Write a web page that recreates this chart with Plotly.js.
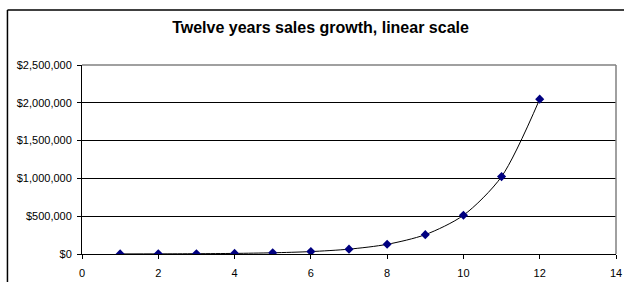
<!DOCTYPE html>
<html>
<head>
<meta charset="utf-8">
<script src="https://cdn.plot.ly/plotly-3.0.1.min.js"></script>
<style>html,body{margin:0;padding:0;background:#fff;}#chart{width:624px;height:282px;}</style>
</head>
<body>
<div id="chart"></div>
<script>
const years = [1, 2, 3, 4, 5, 6, 7, 8, 9, 10, 11, 12];
const sales = [1000, 2000, 4000, 8000, 16000, 32000, 64000, 128000, 256000, 512000, 1024000, 2048000];
const xTicks = [0, 2, 4, 6, 8, 10, 12, 14];
const yTicks = [0, 500000, 1000000, 1500000, 2000000, 2500000];
const yTickLabels = ['$0', '$500,000', '$1,000,000', '$1,500,000', '$2,000,000', '$2,500,000'];

const trace = {
  x: years, y: sales, type: 'scatter', mode: 'lines+markers',
  line: {color: '#000000', width: 1, shape: 'spline', smoothing: 0.8},
  marker: {symbol: 'diamond', size: 7, color: '#000080', line: {width: 0}},
  hoverinfo: 'none'
};

const font = {family: 'Liberation Sans, Arial, sans-serif', size: 11, color: '#000'};
const layout = {
  width: 624, height: 282,
  margin: {l: 82, r: 8, t: 65, b: 28, pad: 0},
  paper_bgcolor: '#fff', plot_bgcolor: '#fff',
  showlegend: false,
  font: font,
  title: {text: '<b>Twelve years sales growth, linear scale</b>', font: {family: 'Liberation Sans, Arial, sans-serif', size: 16, color: '#000'},
    xref: 'container', x: 320.5/624, xanchor: 'center', yref: 'container', y: 1 - 27/282, yanchor: 'middle'},
  xaxis: {range: [0, 14], tickvals: xTicks, ticktext: xTicks.map(String), showgrid: false, zeroline: false,
    showline: true, linecolor: '#000', linewidth: 1, ticks: 'outside', ticklen: 4, tickcolor: '#000', tickfont: font,
    ticklabelstandoff: 5, fixedrange: true},
  yaxis: {range: [0, 2500000], tickvals: yTicks, ticktext: yTickLabels, showgrid: true, gridcolor: '#000', gridwidth: 1,
    zeroline: false, showline: true, linecolor: '#000', linewidth: 1, ticks: 'outside', ticklen: 4, tickcolor: '#000', tickfont: font,
    ticklabelstandoff: 3, fixedrange: true},
  shapes: [
    {type: 'line', xref: 'paper', yref: 'paper', x0: 0, x1: 1, y0: 1, y1: 1, line: {color: '#808080', width: 1.5}},
    {type: 'line', xref: 'paper', yref: 'paper', x0: 1, x1: 1, y0: 0, y1: 1, line: {color: '#808080', width: 1.5}},
    {type: 'line', xref: 'paper', yref: 'paper', x0: -0.1396, x1: 1.03, y0: 1.291, y1: 1.291, line: {color: '#000', width: 1.5}},
    {type: 'line', xref: 'paper', yref: 'paper', x0: -0.1396, x1: -0.1396, y0: 1.291, y1: -0.2, line: {color: '#000', width: 1.5}}
  ]
};
Plotly.newPlot('chart', [trace], layout, {displayModeBar: false, staticPlot: true});
</script>
</body>
</html>
